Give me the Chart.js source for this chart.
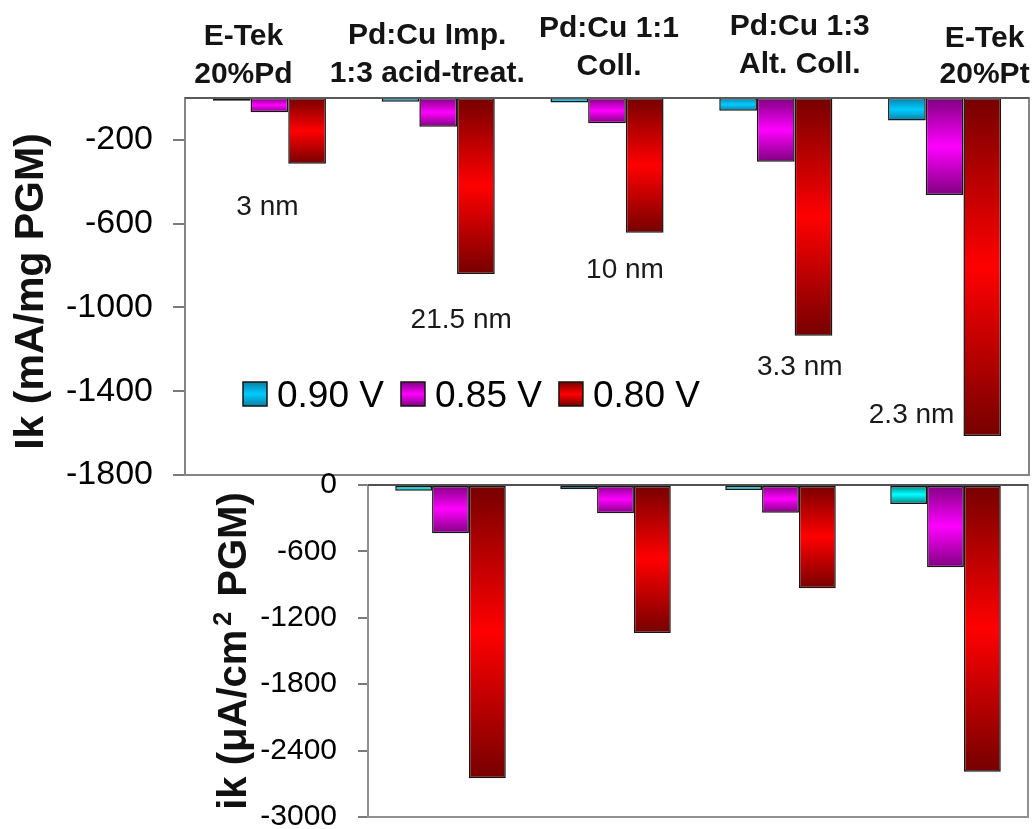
<!DOCTYPE html>
<html>
<head>
<meta charset="utf-8">
<script src="https://cdn.jsdelivr.net/npm/chart.js@4.4.1/dist/chart.umd.min.js"></script>
<style>
  html, body { margin: 0; padding: 0; background: #fff; overflow: hidden; width: 1035px; height: 829px; }
  .panel { position: absolute; left: 0; width: 1035px; }
  #massWrap { top: 0; height: 500px; }
  #areaWrap { top: 460px; height: 385px; }
</style>
</head>
<body>
<div class="panel" id="massWrap"><canvas id="mass" width="1035" height="500"></canvas></div>
<div class="panel" id="areaWrap"><canvas id="area" width="1035" height="385"></canvas></div>
<script>
const FONT = "'Liberation Sans', Arial, Helvetica, sans-serif";

// Catalysts (header lines) and the subset shown in the lower panel
const massCategories = [
  ["E-Tek", "20%Pd"],
  ["Pd:Cu Imp.", "1:3 acid-treat."],
  ["Pd:Cu 1:1", "Coll."],
  ["Pd:Cu 1:3", "Alt. Coll."],
  ["E-Tek", "20%Pt"]
];
const areaCategories = ["Pd:Cu Imp. 1:3 acid-treat.", "Pd:Cu 1:1 Coll.", "Pd:Cu 1:3 Alt. Coll.", "E-Tek 20%Pt"];
const potentials = ["0.90 V", "0.85 V", "0.80 V"];

// Mass activity Ik, mA/mg PGM
const massAt090 = [-13, -18, -22, -61, -108];
const massAt085 = [-68, -137, -121, -304, -463];
const massAt080 = [-314, -840, -643, -1135, -1614];

// Specific activity ik, µA/cm² PGM
const areaAt090 = [-51, -39, -45, -172];
const areaAt085 = [-437, -256, -250, -744];
const areaAt080 = [-2650, -1337, -934, -2590];

// Axis ticks
const massTicks = [-200, -600, -1000, -1400, -1800];
const areaTicks = [0, -600, -1200, -1800, -2400, -3000];

// Particle size notes for each catalyst in the upper panel
const particleSizes = ["3 nm", "21.5 nm", "10 nm", "3.3 nm", "2.3 nm"];

// ---- placement of the free text (pixels / axis units) ----
const headerDx = [-26, -11, 2, 24, 40];
const headerBaselines = [[45, 83], [44, 82], [37, 75], [35, 73], [47, 83]];
const sizeNoteDx = [-2, 23, 18, 24, -33];
const sizeNoteAt = [-559, -1098, -860, -1323, -1552];

// bar shading: [edge colour, centre colour]
const massPalette = [["#087fa6", "#00ccff"], ["#800080", "#ff00ff"], ["#760000", "#ff0000"]];
const areaPalette = [["#007a7a", "#00ffff"], ["#800080", "#ff00ff"], ["#760000", "#ff0000"]];

function shade(ctx, top, bottom, edge, mid) {
  const g = ctx.createLinearGradient(0, top, 0, bottom);
  g.addColorStop(0, edge);
  g.addColorStop(0.5, mid);
  g.addColorStop(1, edge);
  return g;
}

function barFill(edge, mid) {
  return (c) => {
    const chart = c.chart;
    if (!chart.chartArea || c.type !== 'data') return mid;
    const ys = chart.scales.y;
    const a = ys.getPixelForValue(0);
    const b = ys.getPixelForValue(c.raw);
    return shade(chart.ctx, Math.min(a, b), Math.max(a, b), edge, mid);
  };
}

function makeDatasets(series, palette) {
  return series.map((d, i) => ({
    label: potentials[i],
    data: d,
    backgroundColor: barFill(palette[i][0], palette[i][1]),
    borderColor: '#151515',
    borderWidth: 1.5,
    borderSkipped: false,
    categoryPercentage: 0.67,
    barPercentage: 1.0
  }));
}

function yScale(min, ticks, width, fontSize, tickLen, pad) {
  return {
    min: min, max: 0,
    afterBuildTicks: (s) => { s.ticks = ticks.map(v => ({ value: v })); },
    afterFit: (s) => {
      s.width = width;
      // the plotting area is set by the layout padding alone
      s.paddingTop = 0;
      s.paddingBottom = 0;
    },
    ticks: {
      autoSkip: false,
      color: '#000',
      padding: pad,
      font: { family: FONT, size: fontSize },
      callback: (v) => String(v)
    },
    grid: { drawOnChartArea: false, drawTicks: true, tickLength: tickLen, color: '#7a7a7a', lineWidth: 2 },
    border: { display: true, color: '#6e6e6e', width: 2 }
  };
}

// frame around the plotting area
const framePlugin = {
  id: 'frame',
  afterDatasetsDraw(chart, args, opts) {
    const { ctx, chartArea: a } = chart;
    ctx.save();
    ctx.strokeStyle = opts.color || '#858585';
    ctx.lineWidth = 2;
    ctx.strokeRect(a.left, a.top, a.right - a.left, a.bottom - a.top);
    if (opts.topColor) {
      ctx.strokeStyle = opts.topColor;
      ctx.beginPath();
      ctx.moveTo(a.left, a.top);
      ctx.lineTo(a.right, a.top);
      ctx.stroke();
    }
    ctx.restore();
  }
};

function drawVerticalTitle(ctx, pieces, x, yCenter) {
  ctx.save();
  ctx.translate(x, yCenter);
  ctx.rotate(-Math.PI / 2);
  ctx.fillStyle = '#111';
  ctx.textBaseline = 'alphabetic';
  ctx.textAlign = 'left';
  let total = 0;
  pieces.forEach(p => { ctx.font = p.font; total += ctx.measureText(p.text).width + (p.gap || 0); });
  let cx = -total / 2;
  pieces.forEach(p => {
    ctx.font = p.font;
    cx += (p.gap || 0) / 2;
    ctx.fillText(p.text, cx, -(p.raise || 0));
    cx += ctx.measureText(p.text).width + (p.gap || 0) / 2;
  });
  ctx.restore();
}

// headers, size notes, legend and axis title of the upper panel
const massTextPlugin = {
  id: 'massText',
  afterDraw(chart) {
    const { ctx, chartArea: a, scales } = chart;
    const xs = scales.x, ys = scales.y;
    ctx.save();
    // catalyst headers
    ctx.fillStyle = '#141414';
    ctx.textAlign = 'center';
    ctx.textBaseline = 'alphabetic';
    ctx.font = "bold 30px " + FONT;
    massCategories.forEach((lines, i) => {
      const x = xs.getPixelForValue(i) + headerDx[i];
      lines.forEach((t, k) => ctx.fillText(t, x, headerBaselines[i][k]));
    });
    // particle sizes
    ctx.font = "28px " + FONT;
    ctx.fillStyle = '#1a1a1a';
    particleSizes.forEach((t, i) => {
      ctx.fillText(t, xs.getPixelForValue(i) + sizeNoteDx[i], ys.getPixelForValue(sizeNoteAt[i]));
    });
    // legend
    let lx = 243;
    const boxTop = 382, box = 24, baseline = 407;
    ctx.font = "37px " + FONT;
    ctx.textAlign = 'left';
    chart.data.datasets.forEach((ds, i) => {
      ctx.fillStyle = shade(ctx, boxTop, boxTop + box, massPalette[i][0], massPalette[i][1]);
      ctx.fillRect(lx, boxTop, box, box);
      ctx.strokeStyle = '#151515';
      ctx.lineWidth = 1.5;
      ctx.strokeRect(lx, boxTop, box, box);
      lx += box + 10;
      ctx.fillStyle = '#000';
      ctx.fillText(ds.label, lx, baseline);
      lx += ctx.measureText(ds.label).width + 17;
    });
    ctx.restore();
    // axis title
    drawVerticalTitle(ctx, [{ text: "Ik (mA/mg PGM)", font: "bold 41px " + FONT }], 43, (a.top + a.bottom) / 2 + 5);
  }
};

const areaTextPlugin = {
  id: 'areaText',
  afterDraw(chart) {
    const a = chart.chartArea;
    drawVerticalTitle(chart.ctx, [
      { text: "ik (\u03bcA/cm", font: "bold 40px " + FONT },
      { text: "2", font: "bold 25px " + FONT, raise: 15, gap: 8 },
      { text: " PGM)", font: "bold 40px " + FONT }
    ], 246, (a.top + a.bottom) / 2);
  }
};

Chart.defaults.font.family = FONT;

new Chart(document.getElementById('mass'), {
  type: 'bar',
  data: {
    labels: massCategories.map(l => l.join(' ')),
    datasets: makeDatasets([massAt090, massAt085, massAt080], massPalette)
  },
  options: {
    responsive: false,
    animation: false,
    layout: { padding: { top: 98, left: 0, right: 6, bottom: 25 } },
    plugins: { legend: { display: false }, tooltip: { enabled: false }, frame: { color: '#858585', topColor: '#5a5a5a' } },
    scales: {
      x: { type: 'category', display: false, offset: true },
      y: yScale(-1800, massTicks, 185, 34, 12, 20)
    }
  },
  plugins: [framePlugin, massTextPlugin]
});

new Chart(document.getElementById('area'), {
  type: 'bar',
  data: {
    labels: areaCategories,
    datasets: makeDatasets([areaAt090, areaAt085, areaAt080], areaPalette)
  },
  options: {
    responsive: false,
    animation: false,
    layout: { padding: { top: 25, left: 0, right: 7, bottom: 28 } },
    plugins: { legend: { display: false }, tooltip: { enabled: false }, frame: { color: '#909090', topColor: '#505050' } },
    scales: {
      x: { type: 'category', display: false, offset: true },
      y: yScale(-3000, areaTicks, 368, 30, 10, 21)
    }
  },
  plugins: [framePlugin, areaTextPlugin]
});
</script>
</body>
</html>
